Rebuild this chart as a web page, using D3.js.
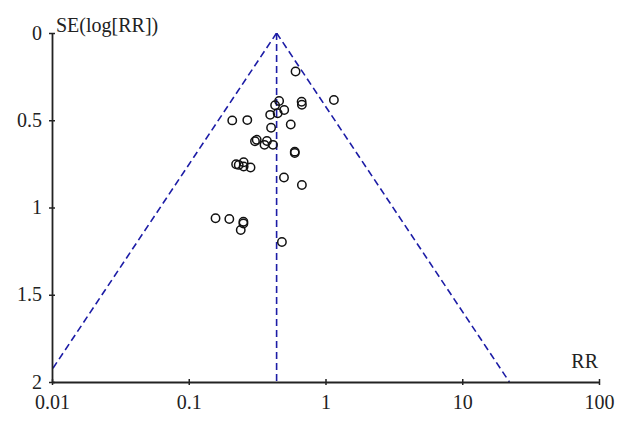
<!DOCTYPE html>
<html><head><meta charset="utf-8">
<script src="https://cdn.jsdelivr.net/npm/d3@7"></script>
<style>
html,body{margin:0;padding:0;background:#fff;}
svg{display:block;font-family:"Liberation Serif","Times New Roman",serif;}
</style></head>
<body><svg id="c" width="628" height="423"></svg>
<script>
// Study estimates: risk ratio and standard error of log(RR)
const studyRR = [0.604,1.152,0.669,0.672,0.458,0.428,0.499,0.447,0.394,0.208,0.268,0.557,0.400,0.305,0.314,0.358,0.373,0.413,0.596,0.596,0.222,0.232,0.252,0.252,0.283,0.497,0.672,0.157,0.198,0.251,0.251,0.240,0.480];
const studySE = [0.221,0.384,0.394,0.411,0.390,0.414,0.441,0.460,0.469,0.501,0.499,0.524,0.543,0.620,0.612,0.641,0.619,0.641,0.680,0.688,0.752,0.756,0.741,0.765,0.771,0.828,0.871,1.062,1.066,1.082,1.092,1.129,1.198];
const pooledRR = 0.439;
const zCrit = 1.96;
const xTicks = [0.01, 0.1, 1, 10, 100];
const xTickLabels = ["0.01", "0.1", "1", "10", "100"];
const yTicks = [0, 0.5, 1, 1.5, 2];
const yTickLabels = ["0", "0.5", "1", "1.5", "2"];
const seMax = 2;

const svg = d3.select("#c");
const x = d3.scaleLog().domain([0.01, 100]).range([52, 599]);
const y = d3.scaleLinear().domain([0, 2]).range([33, 382]);

svg.append("defs").append("clipPath").attr("id","pc")
  .append("rect").attr("x",52).attr("y",33).attr("width",547).attr("height",349);

// funnel lines
const funnelL = [[pooledRR, 0], [pooledRR*Math.exp(-zCrit*seMax), seMax]];
const funnelR = [[pooledRR, 0], [pooledRR*Math.exp(zCrit*seMax), seMax]];
const vline = [[pooledRR, 0], [pooledRR, seMax]];
const line = d3.line().x(d=>x(d[0])).y(d=>y(d[1]));
const g = svg.append("g").attr("clip-path","url(#pc)");
[funnelL, funnelR, vline].forEach(p=>{
  g.append("path").attr("d", line(p)).attr("fill","none")
   .attr("stroke","#1c1ca6").attr("stroke-width",1.6).attr("stroke-dasharray","7,4");
});

// axes
const xAxis = svg.append("g").attr("transform","translate(0,382)")
  .call(d3.axisBottom(x).tickValues(xTicks).tickFormat((d,i)=>xTickLabels[i]).tickSizeInner(3).tickSizeOuter(0));
const yAxis = svg.append("g").attr("transform","translate(52,0)")
  .call(d3.axisLeft(y).tickValues(yTicks).tickFormat((d,i)=>yTickLabels[i]).tickSizeInner(3).tickSizeOuter(0));
[xAxis, yAxis].forEach(a=>{
  a.select(".domain").attr("stroke","#222").attr("stroke-width",1.8);
  a.selectAll(".tick line").attr("stroke","#222").attr("stroke-width",1.5);
  a.selectAll(".tick text").attr("fill","#222").attr("font-size",20)
   .attr("font-family","Liberation Serif, Times New Roman, serif");
});
xAxis.selectAll(".tick line").attr("y1",-3).attr("y2",3);
xAxis.selectAll(".tick text").attr("y",27).attr("dy",0);
yAxis.selectAll(".tick line").attr("x1",-3).attr("x2",3);
yAxis.selectAll(".tick text").attr("x",-10).attr("dy","0.3em");

// axis titles
svg.append("text").attr("x",56).attr("y",32).attr("font-size",20).attr("fill","#222").text("SE(log[RR])");
svg.append("text").attr("x",598).attr("y",368).attr("font-size",20).attr("fill","#222")
  .attr("text-anchor","end").text("RR");

// points
svg.append("g").selectAll("circle").data(studyRR.map((r,i)=>[r, studySE[i]])).join("circle")
  .attr("cx",d=>x(d[0])).attr("cy",d=>y(d[1])).attr("r",4.2)
  .attr("fill","none").attr("stroke","#111").attr("stroke-width",1.5);
</script></body></html>
